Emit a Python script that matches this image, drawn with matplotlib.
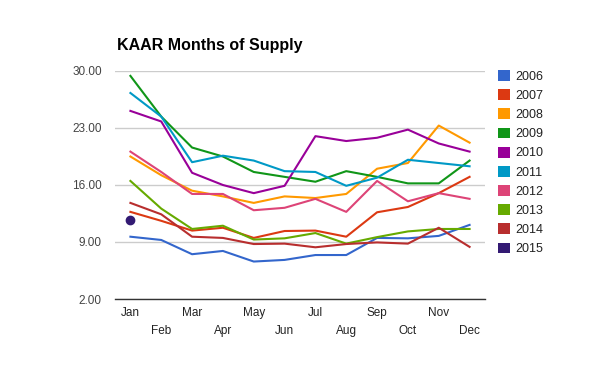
import matplotlib.pyplot as plt
from matplotlib.patches import Patch

plt.rcParams['font.family'] = ['Liberation Sans', 'DejaVu Sans']

months = ['Jan', 'Feb', 'Mar', 'Apr', 'May', 'Jun',
          'Jul', 'Aug', 'Sep', 'Oct', 'Nov', 'Dec']

y2006 = [9.65, 9.25, 7.5, 7.9, 6.6, 6.8, 7.4, 7.4, 9.5, 9.45, 9.75, 11.1]
y2007 = [12.7, 11.6, 10.4, 10.75, 9.5, 10.35, 10.4, 9.65, 12.65, 13.3, 15.0, 17.0]
y2008 = [19.5, 17.2, 15.3, 14.6, 13.8, 14.6, 14.4, 14.9, 18.0, 18.7, 23.3, 21.2]
y2009 = [29.4, 24.4, 20.6, 19.5, 17.6, 17.0, 16.4, 17.7, 17.0, 16.2, 16.2, 19.0]
y2010 = [25.1, 23.8, 17.5, 16.0, 15.0, 15.9, 22.0, 21.4, 21.8, 22.8, 21.1, 20.1]
y2011 = [27.3, 24.4, 18.8, 19.6, 19.0, 17.7, 17.6, 15.9, 16.9, 19.1, 18.7, 18.3]
y2012 = [20.1, 17.6, 14.9, 14.9, 12.9, 13.2, 14.3, 12.7, 16.5, 14.0, 15.0, 14.3]
y2013 = [16.5, 13.1, 10.6, 11.0, 9.3, 9.45, 10.1, 8.8, 9.6, 10.3, 10.6, 10.6]
y2014 = [13.8, 12.4, 9.65, 9.5, 8.75, 8.8, 8.35, 8.75, 8.95, 8.8, 10.75, 8.4]
y2015 = [11.65]

years = ['2006', '2007', '2008', '2009', '2010', '2011', '2012', '2013', '2014', '2015']
series = [y2006, y2007, y2008, y2009, y2010, y2011, y2012, y2013, y2014, y2015]
colors = ['#3366cc', '#dc3912', '#ff9900', '#109618', '#990099',
          '#0099c6', '#dd4477', '#66aa00', '#b82e2e', '#331a73']

fig = plt.figure(figsize=(6, 3.71), dpi=100)
ax = fig.add_axes([115/600, 1 - 299/371, 370/600, 228/371])

for vals, c in zip(series, colors):
    x = list(range(len(vals)))
    if len(vals) == 1:
        ax.plot(x, vals, 'o', color=c, markersize=6)
    else:
        ax.plot(x, vals, color=c, lw=1.5, solid_joinstyle='round')

ax.set_xlim(-0.5, 11.5)
ax.set_ylim(2, 30)
yt = [2, 9, 16, 23, 30]
ax.set_yticks(yt)
ax.set_yticklabels(['%.2f' % v for v in yt])
ax.tick_params(axis='y', length=0, pad=9.5, labelsize=8.5, labelcolor='#444444')
ax.grid(True, axis='y', color='#cccccc', lw=1)
ax.set_axisbelow(True)

ax.set_xticks(range(0, 12, 2))
ax.set_xticklabels(months[0::2])
ax.set_xticks(range(1, 12, 2), minor=True)
ax.set_xticklabels(months[1::2], minor=True)
ax.tick_params(axis='x', which='major', length=0, pad=6, labelsize=8.5, labelcolor='#222222')
ax.tick_params(axis='x', which='minor', length=0, pad=19, labelsize=8.5, labelcolor='#222222')

for s in ['top', 'right', 'left']:
    ax.spines[s].set_visible(False)
ax.spines['bottom'].set_color('#333333')
ax.spines['bottom'].set_linewidth(1)

fig.text(117/600, 1 - 50/371, 'KAAR Months of Supply', fontsize=11.5,
         fontweight='bold', va='baseline', ha='left')

handles = [Patch(facecolor=c, edgecolor='none') for c in colors]
fig.legend(handles, years, loc='upper left', bbox_to_anchor=(498/600, 1 - 70/371),
           frameon=False, borderpad=0, borderaxespad=0, fontsize=9,
           handlelength=0.95, handleheight=0.95, handletextpad=0.45,
           labelspacing=0.52, labelcolor='#222222')

fig.savefig('out.png', dpi=100)
